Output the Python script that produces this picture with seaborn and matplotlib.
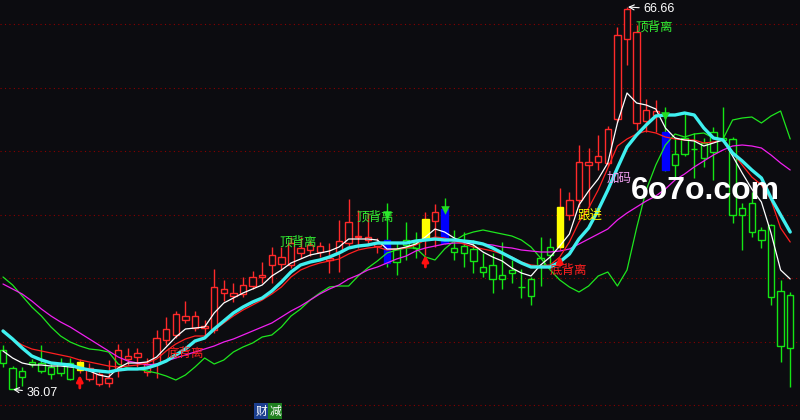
import numpy as np
import pandas as pd
import matplotlib
matplotlib.use('Agg')
import matplotlib.pyplot as plt
import seaborn as sns

# ---- K线数据 ----
opens = [39.22, 37.78, 37.54, 38.26, 38.18, 37.86, 38.10, 38.18, 37.62, 36.90,
         36.50, 36.58, 37.62, 38.50, 38.66, 37.46, 38.10, 40.02, 40.42, 41.62,
         40.98, 40.98, 40.82, 43.78, 43.54, 43.70, 44.34, 45.06, 46.02, 46.10,
         46.02, 46.98, 47.22, 47.06, 46.42, 47.06, 47.78, 48.26, 48.02, 47.54,
         48.02, 47.30, 48.02, 47.78, 48.10, 49.54, 50.50, 47.38, 47.54, 47.30,
         45.86, 46.02, 45.22, 45.62, 44.26, 44.90, 46.58, 47.46, 47.46, 50.02,
         51.22, 54.02, 54.26, 54.18, 57.70, 64.10, 57.38, 57.54, 58.02, 56.66,
         54.90, 56.18, 55.30, 55.78, 56.66, 56.18, 56.10, 50.58, 50.98, 48.82,
         49.22, 43.94, 43.62]
highs = [39.62, 37.94, 37.86, 38.50, 39.62, 38.26, 38.58, 38.58, 38.50, 38.18,
         37.54, 38.42, 39.70, 39.38, 39.38, 38.58, 40.82, 41.86, 42.34, 43.14,
         42.34, 41.62, 45.70, 44.82, 44.58, 45.06, 45.54, 46.26, 47.46, 47.46,
         48.26, 48.26, 48.02, 47.86, 47.78, 49.62, 51.30, 50.42, 50.18, 48.18,
         50.98, 47.78, 49.46, 48.66, 50.26, 50.90, 51.38, 48.82, 48.66, 48.02,
         46.98, 46.98, 47.86, 46.42, 45.70, 45.06, 48.26, 48.18, 52.18, 51.86,
         55.62, 55.38, 56.42, 57.14, 65.06, 66.66, 65.22, 59.30, 59.22, 58.66,
         56.26, 58.26, 56.58, 56.18, 57.06, 58.66, 56.26, 50.98, 51.86, 49.06,
         49.30, 44.82, 43.86]
lows = [37.86, 36.07, 36.34, 37.86, 37.38, 36.90, 37.14, 36.82, 37.38, 36.74,
        36.34, 36.26, 37.06, 38.02, 37.86, 37.14, 36.98, 39.62, 40.18, 41.38,
        40.74, 40.42, 40.58, 43.14, 43.06, 43.46, 44.10, 44.58, 44.58, 45.62,
        45.78, 46.58, 46.74, 46.66, 45.38, 45.46, 47.54, 47.38, 47.62, 46.98,
        45.86, 45.22, 46.42, 46.58, 46.82, 47.46, 47.70, 46.42, 45.86, 45.38,
        45.06, 43.78, 44.10, 44.58, 43.38, 42.82, 44.34, 45.78, 47.22, 49.62,
        50.66, 50.66, 53.62, 53.94, 57.46, 62.02, 56.82, 56.66, 56.66, 53.54,
        52.98, 54.74, 52.98, 53.86, 52.82, 55.86, 49.38, 47.22, 48.26, 47.38,
        42.82, 38.26, 36.26]
closes = [38.18, 36.12, 37.06, 38.10, 37.54, 37.30, 37.38, 36.90, 38.26, 37.78,
          37.30, 36.98, 39.22, 38.74, 38.98, 38.10, 40.18, 40.90, 42.10, 41.94,
          41.94, 41.14, 44.26, 44.10, 43.78, 44.42, 45.06, 45.22, 46.82, 46.66,
          47.78, 47.38, 47.62, 47.54, 46.58, 47.94, 49.46, 48.34, 48.26, 47.78,
          46.18, 46.26, 47.62, 47.38, 49.70, 50.26, 47.78, 47.06, 46.98, 46.34,
          45.46, 44.90, 44.90, 45.38, 44.22, 43.54, 46.02, 46.82, 50.66, 51.22,
          54.26, 54.26, 54.74, 56.90, 64.42, 66.50, 64.66, 58.42, 58.34, 53.62,
          54.02, 54.90, 55.26, 54.58, 55.06, 56.02, 50.02, 50.02, 48.66, 48.02,
          43.46, 39.54, 39.38]

# ---- 均线 ----
ma_white = [39.14, 38.58, 38.18, 38.02, 38.02, 37.94, 37.94, 37.86, 37.78, 37.54,
            37.22, 37.06, 37.78, 38.18, 38.18, 38.26, 38.66, 39.46, 40.26, 40.90,
            40.98, 41.06, 42.18, 42.98, 43.38, 43.78, 44.10, 44.42, 45.14, 45.62,
            46.18, 46.50, 46.82, 46.98, 47.14, 47.46, 48.10, 48.10, 48.10, 48.02,
            47.30, 47.30, 47.46, 47.70, 48.26, 48.90, 48.66, 48.18, 47.86, 47.62,
            47.06, 46.66, 46.34, 45.78, 45.38, 45.14, 46.02, 46.66, 47.54, 48.50,
            50.82, 51.94, 52.90, 54.18, 57.38, 59.78, 58.98, 58.82, 58.50, 56.98,
            56.18, 56.02, 55.94, 55.54, 55.78, 56.02, 54.74, 53.38, 52.10, 51.06,
            48.58, 45.62, 44.90]
ma_red = [40.82, 40.10, 39.62, 39.30, 39.14, 38.98, 38.82, 38.66, 38.42, 38.26,
          38.10, 37.94, 37.86, 37.94, 38.02, 38.18, 38.50, 39.14, 39.70, 40.10,
          40.34, 40.34, 40.82, 41.38, 41.94, 42.42, 42.82, 43.22, 43.70, 44.26,
          45.06, 45.62, 45.94, 46.18, 46.34, 46.50, 46.90, 47.22, 47.38, 47.46,
          47.22, 47.30, 47.38, 47.62, 48.02, 48.26, 48.18, 47.94, 47.70, 47.46,
          47.30, 47.14, 46.90, 46.66, 46.26, 46.02, 45.94, 46.02, 46.66, 47.86,
          49.46, 50.58, 52.02, 53.78, 55.54, 56.10, 56.50, 56.74, 56.58, 56.26,
          56.10, 56.02, 56.02, 55.78, 55.86, 56.02, 54.98, 54.02, 53.06, 52.42,
          51.22, 48.98, 47.86]
ma_cyan = [40.74, 40.10, 39.38, 38.74, 38.42, 38.18, 38.10, 38.02, 37.78, 37.62,
           37.54, 37.46, 37.62, 37.70, 37.70, 37.78, 38.02, 38.34, 38.82, 39.30,
           39.94, 40.18, 40.90, 41.54, 42.18, 42.66, 43.06, 43.38, 43.94, 44.66,
           45.46, 46.02, 46.26, 46.42, 46.66, 46.98, 47.38, 47.54, 47.62, 47.78,
           47.78, 47.78, 47.78, 47.94, 48.02, 48.10, 48.02, 48.02, 47.94, 47.86,
           47.70, 47.38, 46.98, 46.58, 46.18, 45.86, 45.86, 45.86, 46.26, 46.90,
           48.10, 48.98, 50.42, 52.02, 53.78, 55.46, 56.42, 57.22, 57.94, 58.02,
           58.02, 58.18, 58.02, 56.98, 56.18, 56.02, 54.98, 54.34, 53.62, 52.98,
           51.38, 50.02, 48.66]
ma_magenta = [44.50, 44.10, 43.70, 43.14, 42.50, 41.94, 41.46, 41.06, 40.58, 40.10,
              39.62, 39.14, 38.66, 38.34, 38.18, 38.02, 38.10, 38.34, 38.58, 38.82,
              39.06, 39.30, 39.54, 39.86, 40.10, 40.42, 40.74, 41.06, 41.38, 41.86,
              42.34, 42.74, 43.22, 43.70, 44.10, 44.42, 44.90, 45.22, 45.62, 45.86,
              46.18, 46.50, 46.74, 47.14, 47.38, 47.54, 47.70, 47.78, 47.78, 47.78,
              47.70, 47.62, 47.46, 47.38, 47.22, 47.14, 47.06, 47.06, 47.14, 47.30,
              47.70, 48.10, 48.50, 48.90, 49.62, 50.18, 50.66, 51.14, 51.54, 52.10,
              52.82, 53.30, 53.86, 54.34, 54.82, 55.22, 55.54, 55.62, 55.54, 55.38,
              54.82, 54.18, 53.62]
ma_green = [45.06, 44.42, 43.54, 42.66, 41.94, 41.06, 40.34, 39.86, 39.54, 39.30,
            39.22, 39.06, 38.10, 37.78, 37.70, 37.54, 37.38, 37.14, 36.82, 37.22,
            37.86, 38.58, 38.10, 38.42, 39.06, 39.46, 39.78, 40.26, 40.42, 41.06,
            41.94, 42.50, 43.22, 43.78, 44.26, 44.34, 44.34, 45.14, 45.78, 46.34,
            46.98, 47.22, 47.38, 47.38, 46.66, 46.42, 47.30, 47.94, 48.42, 48.66,
            48.82, 48.66, 48.50, 48.34, 48.02, 47.46, 46.58, 45.62, 44.82, 44.26,
            43.86, 44.34, 45.14, 45.46, 44.34, 45.62, 48.98, 52.02, 54.02, 55.62,
            56.50, 56.26, 56.50, 56.58, 56.18, 56.10, 57.62, 57.78, 57.86, 57.38,
            57.94, 58.34, 56.10]

# 信号K线
yellow_bars = [8, 44, 58]
blue_bars = [40, 46, 69]
# 信号箭头 (K线序号, 箭头顶端, 箭尾)
up_arrow_idx = [8, 44, 58]
up_arrow_head = [37.22, 46.82, 46.74]
up_arrow_tail = [36.18, 45.86, 46.00]
down_arrow_idx = [40, 46, 69]
down_arrow_head = [50.02, 50.42, 57.94]

grid_prices = [65.27, 60.19, 55.12, 50.04, 44.97, 39.89, 34.82]

BG = '#0c0c10'
UP = '#ff2a2a'
DOWN = '#14e614'

sns.set_theme(style='dark')
plt.rcParams['font.family'] = ['Noto Sans CJK SC', 'DejaVu Sans']
plt.rcParams['axes.unicode_minus'] = False

n = len(closes)
idx = np.arange(n)
df = pd.DataFrame({'open': opens, 'high': highs, 'low': lows, 'close': closes}, index=idx)

fig = plt.figure(figsize=(8, 4.2), dpi=100)
fig.patch.set_facecolor(BG)
ax = fig.add_axes([0, 0, 1, 1])
ax.set_facecolor(BG)

for gp in grid_prices:
    ax.axhline(gp, color='#8a0000', lw=0.8, ls=(0, (1, 3)), zorder=1)

# K线
edge = [UP if c >= o else DOWN for o, c in zip(df['open'], df['close'])]
fill = [BG] * n
for i in yellow_bars:
    fill[i] = '#ffff00'
    edge[i] = '#ffff00'
for i in blue_bars:
    fill[i] = '#0000ff'
    edge[i] = '#0000ff'
wick_col = [UP if c >= o else DOWN for o, c in zip(df['open'], df['close'])]
for i in yellow_bars:
    wick_col[i] = UP

ax.vlines(idx, df['low'], df['high'], colors=wick_col, lw=1.0, zorder=2)
bottom = np.minimum(df['open'], df['close'])
height = np.maximum(np.abs(df['close'] - df['open']), 0.05)
ax.bar(idx, height, bottom=bottom, width=0.68, color=fill, edgecolor=edge,
       linewidth=1.0, zorder=3)

# 均线
sns.lineplot(x=idx, y=ma_green, color='#1ee61e', linewidth=0.9, ax=ax, zorder=4)
sns.lineplot(x=idx, y=ma_magenta, color='#f020f0', linewidth=0.9, ax=ax, zorder=4)
sns.lineplot(x=idx, y=ma_red, color='#ff2020', linewidth=0.9, ax=ax, zorder=4)
sns.lineplot(x=idx, y=ma_white, color='#ffffff', linewidth=0.9, ax=ax, zorder=5)
sns.lineplot(x=idx, y=ma_cyan, color='#3ff0f0', linewidth=2.4, ax=ax, zorder=5)

# 箭头
for i, h, t in zip(up_arrow_idx, up_arrow_head, up_arrow_tail):
    ax.annotate('', xy=(i, h), xytext=(i, t),
                arrowprops=dict(arrowstyle='-|>', color='#ff1010', lw=2.0,
                                mutation_scale=9, shrinkA=0, shrinkB=0), zorder=6)
ax.scatter(down_arrow_idx, down_arrow_head, marker='v', s=38, color='#22dd22',
           zorder=6, linewidths=0)

# 文字标注
lab = dict(fontsize=9, ha='center', va='center', zorder=7)
ax.text(30.7, 47.86, '顶背离', color='#33ee33', **lab)
ax.text(38.75, 49.86, '顶背离', color='#33ee33', **lab)
ax.text(67.8, 65.06, '顶背离', color='#33ee33', **lab)
ax.text(18.96, 38.98, '底背离', color='#ff2020', **lab)
ax.text(58.85, 45.62, '底背离', color='#ff2020', **lab)
ax.text(61.15, 50.02, '跟进', color='#ffff00', **lab)
ax.text(64.17, 52.98, '加码', color='#f0a0f0', **lab)

ax.text(73.18, 51.30, '6o7o.com', color='white', fontsize=23, fontweight='bold',
        family='Liberation Sans', ha='center', va='baseline', zorder=8)

ax.annotate('66.66', xy=(65.1, 66.66), xytext=(66.75, 66.50), color='white',
            fontsize=9, family='Liberation Sans', ha='left', va='center',
            arrowprops=dict(arrowstyle='->', color='white', lw=0.8,
                            shrinkA=1, shrinkB=0), zorder=7)
ax.annotate('36.07', xy=(1.05, 36.07), xytext=(2.5, 35.78), color='white',
            fontsize=9, family='Liberation Sans', ha='left', va='center',
            arrowprops=dict(arrowstyle='->', color='white', lw=0.8,
                            shrinkA=1, shrinkB=0), zorder=7)

ax.text(26.9, 34.34, '财', color='white', fontsize=8.5, ha='center', va='center',
        bbox=dict(boxstyle='square,pad=0.1', fc='#1c3f8f', ec='none'), zorder=7)
ax.text(28.35, 34.34, '减', color='white', fontsize=8.5, ha='center', va='center',
        bbox=dict(boxstyle='square,pad=0.1', fc='#1f7f1f', ec='none'), zorder=7)

ax.set_xlim(-0.3125, 83.02)
ax.set_ylim(67.22 - 0.08 * 420, 67.22)
ax.set_xticks([])
ax.set_yticks([])
ax.set_xlabel('')
ax.set_ylabel('')
for s in ax.spines.values():
    s.set_visible(False)
ax.grid(False)

fig.savefig('out.png', dpi=100, facecolor=BG)
plt.close(fig)
